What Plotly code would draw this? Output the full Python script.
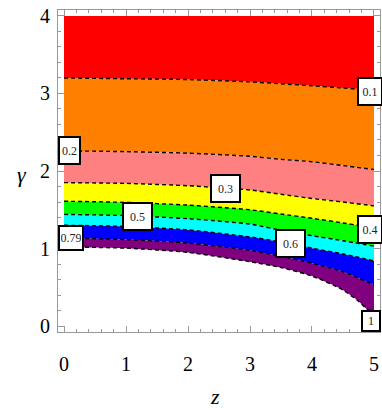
import plotly.graph_objects as go

# contour lines: gamma values along z
Z = [0, 1, 2, 3, 3.5, 4, 4.5, 5]
g01 = [3.20, 3.19, 3.18, 3.15, 3.125, 3.10, 3.07, 3.04]
g02 = [2.26, 2.25, 2.23, 2.19, 2.15, 2.12, 2.07, 2.02]
g03 = [1.85, 1.84, 1.81, 1.755, 1.70, 1.645, 1.60, 1.55]
g04 = [1.61, 1.595, 1.56, 1.50, 1.445, 1.39, 1.33, 1.265]
g05 = [1.44, 1.425, 1.385, 1.315, 1.235, 1.165, 1.10, 1.03]
g06 = [1.30, 1.285, 1.24, 1.15, 1.085, 1.005, 0.93, 0.84]
g079 = [1.135, 1.115, 1.07, 0.975, 0.90, 0.81, 0.70, 0.53]
Z1 = [0, 1, 2, 3, 3.5, 4, 4.5, 4.75, 4.9, 5]
g1 = [1.02, 1.005, 0.95, 0.83, 0.755, 0.645, 0.465, 0.32, 0.21, 0.2]
Ztop = [0, 5]
gtop = [4, 4]

band_colors = ["#FF0000", "#FF8000", "#FF8080", "#FFFF00", "#00FF00",
               "#00FFFF", "#0000FF", "#800080"]

# contour labels
lab_text = ["0.1", "0.2", "0.3", "0.4", "0.5", "0.6", "0.79", "1"]
lab_z = [4.94, 0.09, 2.61, 4.94, 1.19, 3.66, 0.105, 4.95]
lab_g = [3.03, 2.27, 1.772, 1.239, 1.415, 1.071, 1.135, 0.06]
lab_w = [20, 17, 25, 20, 25, 25, 20, 14]
lab_h = [23, 23, 23, 23, 23, 23, 20, 16]

lines = [(Ztop, gtop), (Z, g01), (Z, g02), (Z, g03), (Z, g04), (Z, g05),
         (Z, g06), (Z, g079), (Z1, g1)]

SM = 0.6
fig = go.Figure()
# chained fills: each line fills down from the previous one
for i, (zl, gl) in enumerate(lines):
    if i == 0:
        fig.add_trace(go.Scatter(x=zl, y=gl, mode="lines",
                                 line=dict(width=0, color="rgba(0,0,0,0)"),
                                 hoverinfo="skip", showlegend=False))
    else:
        col = band_colors[i - 1]
        fig.add_trace(go.Scatter(x=zl, y=gl, mode="lines", fill="tonexty",
                                 fillcolor=col,
                                 line=dict(width=0, color=col, shape="spline", smoothing=SM),
                                 hoverinfo="skip", showlegend=False))

for zl, gl in lines[1:]:
    fig.add_trace(go.Scatter(x=zl, y=gl, mode="lines",
                             line=dict(color="black", width=1.4, dash="4px,3px",
                                       shape="spline", smoothing=SM),
                             hoverinfo="skip", showlegend=False))

for t, x, y, w, h in zip(lab_text, lab_z, lab_g, lab_w, lab_h):
    fig.add_annotation(x=x, y=y, xref="x", yref="y", text=t, showarrow=False,
                       font=dict(family="Liberation Serif", size=12, color="#222"),
                       bgcolor="white", bordercolor="black", borderwidth=2,
                       borderpad=1, width=w, height=h)

axis_common = dict(
    showgrid=False, zeroline=False, showline=True, linecolor="#999",
    linewidth=1, mirror="allticks", ticks="inside", ticklen=6,
    tickcolor="#999", tickwidth=1, ticklabeloverflow="allow",
    tickfont=dict(family="Liberation Serif", size=20, color="black"),
    minor=dict(dtick=0.2, ticks="inside", ticklen=3, tickcolor="#999", tickwidth=1),
)
fig.update_xaxes(range=[-0.097, 5.097], tickvals=[0, 1, 2, 3, 4, 5],
                 ticklabelstandoff=14, **axis_common)
fig.update_yaxes(range=[-0.077, 4.077], tickvals=[0, 1, 2, 3, 4],
                 ticklabelstandoff=3, **axis_common)

L, T = 58, 10            # page position of the frame's top-left corner
R, B = 380, 332          # page position of the frame's bottom-right corner
pw, ph = R - L, B - T
fig.add_annotation(xref="paper", yref="paper", text="<i>z</i>",
                   x=(215 - L) / pw, y=(B - 397) / ph, xanchor="center", yanchor="middle",
                   showarrow=False, font=dict(family="Liberation Serif", size=22, color="black"))
fig.add_annotation(xref="paper", yref="paper", text="<i>γ</i>",
                   x=(22 - L) / pw, y=(B - 174) / ph, xanchor="center", yanchor="middle",
                   showarrow=False, font=dict(family="Liberation Serif", size=22, color="black"))

fig.update_layout(width=382, height=410,
                  margin=dict(l=L, r=382 - R, t=T, b=410 - B),
                  plot_bgcolor="white", paper_bgcolor="white")

fig.write_html("out.html", config={"displayModeBar": False},
               post_script="document.body.style.margin='0';document.body.style.overflow='hidden';")
